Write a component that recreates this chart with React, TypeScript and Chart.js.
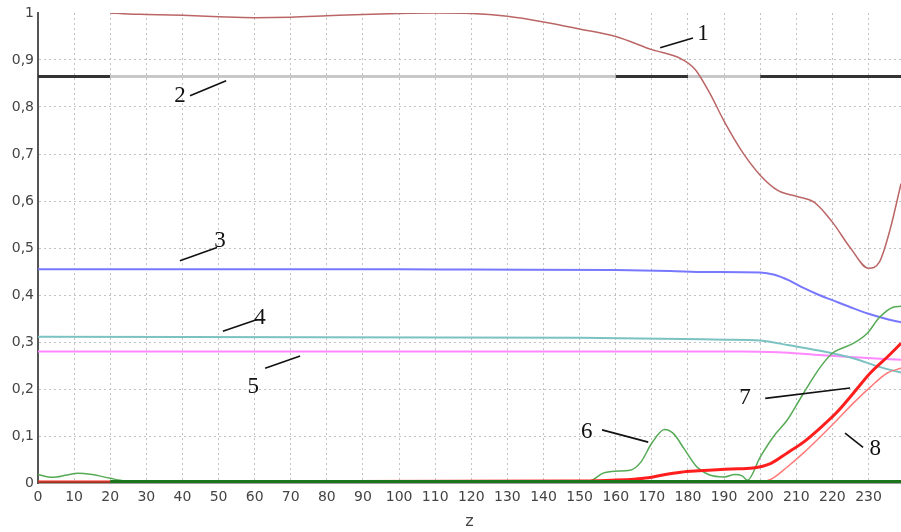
import React, { useEffect, useRef } from "react";
import { Chart, registerables } from "chart.js";

Chart.register(...registerables);

// ---- data ----
const s1Z = [20, 25, 30, 40, 50, 60, 70, 80, 90, 100, 110, 120, 130, 140, 150, 160, 170, 178, 182, 186, 190, 195, 200, 205, 210, 215, 220, 225, 230, 233, 236, 239];
const s1V = [1.0, 0.998, 0.997, 0.995, 0.992, 0.99, 0.991, 0.994, 0.997, 0.999, 1.0, 0.999, 0.993, 0.981, 0.966, 0.95, 0.922, 0.903, 0.88, 0.83, 0.77, 0.705, 0.655, 0.622, 0.61, 0.597, 0.555, 0.5, 0.457, 0.47, 0.54, 0.637];

const s2Z = [0, 20, 160, 180, 200, 239];
const s2V = [0.865, 0.865, 0.865, 0.865, 0.865, 0.865];
const s2Dark = [true, false, true, false, true];

const s3Z = [0, 100, 120, 160, 175, 185, 200, 204, 208, 212, 216, 220, 225, 230, 235, 239];
const s3V = [0.455, 0.455, 0.454, 0.453, 0.451, 0.449, 0.448, 0.443, 0.431, 0.415, 0.401, 0.389, 0.374, 0.36, 0.349, 0.342];

const s4Z = [0, 150, 190, 200, 208, 217, 226, 233, 239];
const s4V = [0.311, 0.309, 0.305, 0.303, 0.293, 0.281, 0.265, 0.247, 0.235];

const s5Z = [0, 195, 205, 215, 225, 239];
const s5V = [0.28, 0.28, 0.278, 0.273, 0.268, 0.262];

const s6Z = [0, 4, 8, 11, 15, 20, 24, 40, 100, 150, 153, 156.5, 160, 164, 167, 170, 173.5, 176, 179, 182.5, 186, 190, 193, 195, 196.5, 200, 203.6, 207.5, 212, 216.6, 220, 225.8, 229.6, 233, 236.8, 239];
const s6V = [0.018, 0.012, 0.017, 0.021, 0.018, 0.01, 0.005, 0.005, 0.005, 0.004, 0.005, 0.021, 0.025, 0.027, 0.045, 0.085, 0.114, 0.105, 0.072, 0.034, 0.017, 0.013, 0.018, 0.015, 0.006, 0.055, 0.098, 0.134, 0.191, 0.246, 0.276, 0.297, 0.318, 0.352, 0.374, 0.376];

const s7Z = [0, 150, 159, 165, 169, 173, 178, 183, 192, 198, 203, 207.5, 212, 216.6, 221.3, 225.8, 230.5, 235.2, 239];
const s7V = [0.002, 0.004, 0.006, 0.008, 0.011, 0.017, 0.023, 0.026, 0.03, 0.032, 0.042, 0.064, 0.087, 0.117, 0.151, 0.191, 0.234, 0.268, 0.297];

const s8Z = [0, 200, 203, 207.5, 212, 216.6, 221.3, 225.8, 230.5, 235.2, 239];
const s8V = [0.002, 0.002, 0.008, 0.034, 0.064, 0.098, 0.134, 0.17, 0.204, 0.234, 0.244];

const darkGreenZ = [20, 239];
const darkGreenV = [0.003, 0.003];
const darkRedZ = [0, 239];
const darkRedV = [0.001, 0.001];

// annotations: label text, label position, leader line ends (data coords)
const annText = ["1", "2", "3", "4", "5", "6", "7", "8"];
const annZ = [184.2, 39.3, 50.4, 61.5, 59.6, 152, 195.8, 231.9];
const annV = [0.955, 0.824, 0.516, 0.352, 0.204, 0.108, 0.18, 0.072];
const annLineZ0 = [172.3, 42.1, 39.3, 51.2, 62.9, 156.2, 201.4, 223.5];
const annLineV0 = [0.926, 0.824, 0.473, 0.323, 0.244, 0.113, 0.18, 0.106];
const annLineZ1 = [181.4, 52.1, 49.6, 60.7, 72.6, 169, 224.9, 228.5];
const annLineV1 = [0.947, 0.856, 0.501, 0.348, 0.27, 0.087, 0.202, 0.076];

const zip = (zs: number[], vs: number[]) => zs.map((x, i) => ({ x, y: vs[i] }));

const annotationPlugin = {
  id: "annotations",
  afterDatasetsDraw(chart: any) {
    const { ctx, scales } = chart;
    const xs = scales.x;
    const ys = scales.y;
    ctx.save();
    ctx.strokeStyle = "#111";
    ctx.lineWidth = 1.6;
    for (let i = 0; i < annText.length; i++) {
      ctx.beginPath();
      ctx.moveTo(xs.getPixelForValue(annLineZ0[i]), ys.getPixelForValue(annLineV0[i]));
      ctx.lineTo(xs.getPixelForValue(annLineZ1[i]), ys.getPixelForValue(annLineV1[i]));
      ctx.stroke();
    }
    ctx.fillStyle = "#111";
    ctx.font = '23px "Liberation Serif", "DejaVu Serif", serif';
    ctx.textAlign = "center";
    ctx.textBaseline = "middle";
    for (let i = 0; i < annText.length; i++) {
      ctx.fillText(annText[i], xs.getPixelForValue(annZ[i]), ys.getPixelForValue(annV[i]));
    }
    ctx.restore();
  },
};

export default function App() {
  const ref = useRef<HTMLCanvasElement | null>(null);
  useEffect(() => {
    document.body.style.margin = "0";
    const canvas = ref.current;
    if (!canvas) return;
    const line = (data: any, color: string, width: number, extra: any = {}) => ({
      data,
      borderColor: color,
      borderWidth: width,
      pointRadius: 0,
      fill: false,
      cubicInterpolationMode: "monotone",
      tension: 0.4,
      ...extra,
    });
    const chart = new Chart(canvas, {
      type: "line",
      data: {
        datasets: [
          line(zip(darkGreenZ, darkGreenV), "#1b761b", 3),
          line(zip(darkRedZ, darkRedV), "#a8301c", 2.5),
          line(zip(s8Z, s8V), "#ff7a7a", 1.5),
          line(zip(s7Z, s7V), "#ff1e1e", 3),
          line(zip(s6Z, s6V), "#55aa55", 1.5),
          line(zip(s1Z, s1V), "#bb6666", 1.5),
          line(zip(s3Z, s3V), "#7878ff", 2),
          line(zip(s4Z, s4V), "#7cc2c2", 2),
          line(zip(s5Z, s5V), "#ff88ff", 2),
          line(zip(s2Z, s2V), "#c8c8c8", 3, {
            tension: 0,
            segment: {
              borderColor: (c: any) => (s2Dark[c.p0DataIndex] ? "#333333" : "#c8c8c8"),
            },
          }),
        ],
      } as any,
      options: {
        animation: false,
        responsive: false,
        maintainAspectRatio: false,
        layout: { padding: { top: 13, right: 0, left: 0, bottom: 0 }, autoPadding: false },
        plugins: { legend: { display: false }, tooltip: { enabled: false } },
        scales: {
          x: {
            type: "linear",
            min: 0,
            max: 239,
            ticks: {
              stepSize: 10,
              includeBounds: false,
              color: "#444",
              font: { family: '"DejaVu Sans", sans-serif', size: 14 },
              padding: 6,
              maxRotation: 0,
              autoSkip: false,
            },
            grid: {
              drawTicks: false,
              color: (c: any) => (c.tick && c.tick.value === 0 ? "rgba(0,0,0,0)" : "#c2c2c2"),
              lineWidth: 1,
            },
            border: { display: true, color: "#444", width: 1.5, dash: [2, 3] },
            title: {
              display: true,
              text: "z",
              color: "#444",
              font: { family: '"DejaVu Sans", sans-serif', size: 16 },
              padding: { top: 0, bottom: 1 },
            },
            afterFit: (s: any) => {
              s.height = 49;
            },
          } as any,
          y: {
            type: "linear",
            min: 0,
            max: 1,
            ticks: {
              stepSize: 0.1,
              color: "#444",
              font: { family: '"DejaVu Sans", sans-serif', size: 14 },
              padding: 4,
              callback: (v: any) => {
                const n = Number(v);
                if (Math.abs(n) < 1e-9) return "0";
                if (Math.abs(n - 1) < 1e-9) return "1";
                return n.toFixed(1).replace(".", ",");
              },
            },
            grid: {
              drawTicks: false,
              color: (c: any) =>
                c.tick && (Math.abs(c.tick.value - 1) < 1e-9 || Math.abs(c.tick.value) < 1e-9)
                  ? "rgba(0,0,0,0)"
                  : "#c2c2c2",
              lineWidth: 1,
            },
            border: { display: true, color: "#555", width: 2, dash: [2, 3] },
            afterFit: (s: any) => {
              s.width = 38;
            },
          } as any,
        },
      },
      plugins: [annotationPlugin],
    });
    return () => chart.destroy();
  }, []);
  return (
    <div style={{ width: 901, height: 532, background: "#fff" }}>
      <canvas ref={ref} width={901} height={532} style={{ display: "block", width: 901, height: 532 }} />
    </div>
  );
}
